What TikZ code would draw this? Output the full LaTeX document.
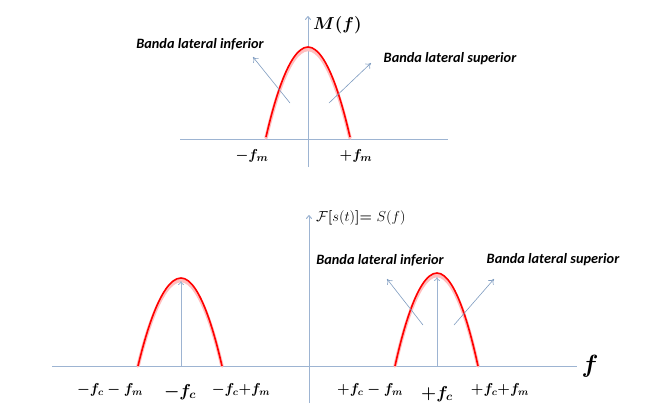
\documentclass[tikz,border=0pt]{standalone}
\usepackage{fontspec}
\setsansfont{Carlito}
\usepackage{amsmath}
\usetikzlibrary{arrows.meta}
\definecolor{axisc}{HTML}{9DB4D2}
\definecolor{arrc}{HTML}{7F9CC0}
\tikzset{
  axis/.style={draw=axisc, line width=1pt},
  axisarrow/.style={axis, -{To[length=4pt,width=6pt]}},
  thinarrow/.style={draw=arrc, line width=0.6pt, -{To[length=5pt,width=7pt]}},
  glow/.style={draw=red!25, line width=3.5pt, line cap=round},
  spec/.style={draw=red, line width=1.6pt},
  band/.style={font=\sffamily\bfseries\itshape\fontsize{14.3}{16}\selectfont, inner sep=0pt},
  mlab/.style={font=\fontsize{15.5}{17}\selectfont\boldmath, inner sep=0pt},
  slab/.style={font=\fontsize{14.8}{17}\selectfont\boldmath, inner sep=0pt},
  clab/.style={font=\fontsize{17.5}{19}\selectfont\boldmath, inner sep=0pt},
}
\begin{document}
\begin{tikzpicture}[x=1pt,y=-1pt]
\useasboundingbox (0,0) rectangle (659,408);
% ---------- top diagram ----------
\coordinate (tyb) at (308,167);
\coordinate (tyt) at (308,16);
\coordinate (txl) at (180,139);
\coordinate (txr) at (448,139);
\draw[axis] (txl) -- (txr);
\draw[axisarrow] (tyb) -- (tyt);
\draw[glow] (266,138) parabola bend (308,49.5) (350,138);
\draw[spec] (266,137) parabola bend (308,47) (350,137);
\node[mlab, anchor=west, font=\fontsize{17.5}{19}\selectfont\boldmath] (Mf) at (313,25) {$M(f)$};
\node[band] (tinf) at (200,44) {Banda lateral inferior};
\node[band] (tsup) at (450,59) {Banda lateral superior};
\coordinate (ta1) at (290,103); \coordinate (ta2) at (253,57);
\coordinate (tb1) at (329,103); \coordinate (tb2) at (371,63);
\draw[thinarrow] (ta1) -- (ta2);
\draw[thinarrow] (tb1) -- (tb2);
\node[mlab] (mfm) at (252,156) {$-f_m$};
\node[mlab] (pfm) at (356,156) {$+f_m$};
% ---------- bottom diagram ----------
\coordinate (byb) at (309,403);
\coordinate (byt) at (309,215);
\coordinate (bxl) at (52,366);
\coordinate (bxr) at (577,366);
\draw[axis] (bxl) -- (bxr);
\draw[axisarrow] (byb) -- (byt);
% left spectrum
\draw[glow] (138,366) parabola bend (181,280.5) (222,366);
\draw[spec] (138,366) parabola bend (181,278) (222,366);
\coordinate (lc0) at (181,366); \coordinate (lc1) at (181,281);
\draw[axisarrow, line width=0.8pt] (lc0) -- (lc1);
% right spectrum
\draw[glow] (395,366) parabola bend (437,275.5) (478,366);
\draw[spec] (395,366) parabola bend (437,273) (478,366);
\coordinate (rc0) at (437,366); \coordinate (rc1) at (437,277);
\draw[axisarrow, line width=0.8pt] (rc0) -- (rc1);
\coordinate (ba1) at (423,325); \coordinate (ba2) at (387,279);
\coordinate (bb1) at (454,325); \coordinate (bb2) at (494,279);
\draw[thinarrow] (ba1) -- (ba2);
\draw[thinarrow] (bb1) -- (bb2);
\node[band] (binf) at (380,260) {Banda lateral inferior};
\node[band] (bsup) at (553,260) {Banda lateral superior};
\node[anchor=west, inner sep=0pt, font=\fontsize{14.2}{16}\selectfont] (Fs) at (316,218)
  {$\mathcal{F}\boldsymbol{[}s(t)\boldsymbol{]}$\textbf{=} $S(f)$};
\node[inner sep=0pt, font=\fontsize{26}{28}\selectfont\boldmath] (fbig) at (590,366) {$f$};
\node[slab] (l1) at (110,390) {$-f_c-f_m$};
\node[clab] (l2) at (180,392) {$-f_c$};
\node[slab] (l3) at (241,390) {$-f_c{+}f_m$};
\node[slab] (l4) at (370,390) {$+f_c-f_m$};
\node[clab] (l5) at (437,394) {$+f_c$};
\node[slab] (l6) at (500,390) {$+f_c{+}f_m$};
\end{tikzpicture}
\end{document}
